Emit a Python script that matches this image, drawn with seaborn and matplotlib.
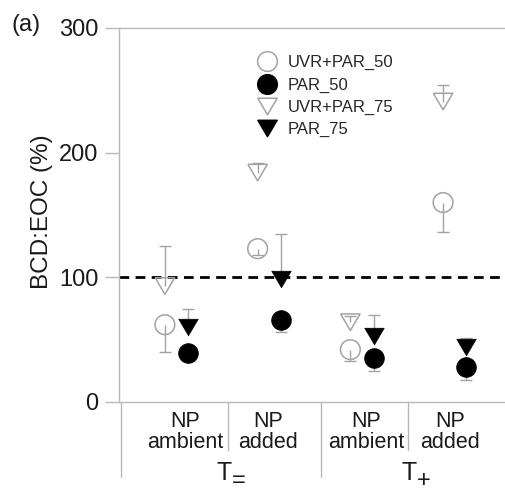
import matplotlib
matplotlib.use("Agg")
import matplotlib.pyplot as plt
from matplotlib.lines import Line2D
import seaborn as sns
import numpy as np
import pandas as pd

# ---- data ----
groups = ["NP\nambient", "NP\nadded", "NP\nambient", "NP\nadded"]
temp_main = ["T", "T"]
temp_sub = ["=", "+"]
series = ["UVR+PAR_50", "PAR_50", "UVR+PAR_75", "PAR_75"]

uvr50 = [62, 123, 42, 160]
uvr50_lo = [40, 118, 33, 136]
par50 = [39, 66, 35, 28]
par50_lo = [36, 56, 25, 18]
uvr75 = [93, 184, 64, 241]
uvr75_hi = [125, 192, 69, 254]
par75 = [60, 99, 53, 44]
par75_hi = [75, 135, 70, 51]

yticks = [0, 100, 200, 300]

# ---- style ----
sns.set_theme(style="white")
plt.rcParams["font.family"] = ["Liberation Sans", "DejaVu Sans"]

GRAY = "#a3a3a3"
SPINE = "#b8b8b8"
TXT = "#1a1a1a"

fig = plt.figure(figsize=(5.06, 4.91), dpi=100)
ax = fig.add_axes([119 / 506, 1 - 402 / 491, 1 - 119 / 506 + 0.02, (402 - 28) / 491])

idx = np.arange(len(groups))
off = 0.125
tri = [(-1, 0.85), (1, 0.85), (0, -0.85), (-1, 0.85)]

# error bars (one-sided)
def onesided(xpos, val, end, color):
    ax.vlines(xpos, val, end, color=color, lw=1.0, zorder=2)
    ax.plot(xpos, end, ls="none", marker="_", ms=9, mew=1.0, color=color, zorder=2)

onesided(idx - off, uvr50, uvr50_lo, GRAY)
onesided(idx - off, uvr75, uvr75_hi, GRAY)
onesided(idx + off, par50, par50_lo, GRAY)
onesided(idx + off, par75, par75_hi, GRAY)

ms_c = 14.2 ** 2
ms_t = 14 ** 2
sns.scatterplot(x=idx - off, y=uvr50, marker="o", s=ms_c, facecolors="none",
                edgecolor=GRAY, linewidth=1.1, ax=ax, zorder=3)
sns.scatterplot(x=idx - off, y=uvr75, marker=tri, s=ms_t, facecolors="none",
                edgecolor=GRAY, linewidth=1.1, ax=ax, zorder=3)
sns.scatterplot(x=idx + off, y=par50, marker="o", s=ms_c, color="black",
                edgecolor="black", linewidth=0.5, ax=ax, zorder=4)
sns.scatterplot(x=idx + off, y=par75, marker=tri, s=ms_t, color="black",
                edgecolor="black", linewidth=0.5, ax=ax, zorder=4)

ax.axhline(100, color="black", lw=2.0, ls=(0, (3.5, 2.3)), zorder=1)

ax.set_xlim(-0.62, 3.663)
ax.set_ylim(0, 300)
ax.set_yticks(yticks)
ax.set_yticklabels([str(t) for t in yticks], fontsize=17, color=TXT)
ax.set_xticks([])
ax.tick_params(axis="y", direction="out", length=10, width=1, color=SPINE, pad=5, left=True)
for s in ["left", "bottom", "top"]:
    ax.spines[s].set_color(SPINE)
    ax.spines[s].set_linewidth(1.0)
ax.spines["right"].set_visible(False)
ax.set_ylabel("BCD:EOC (%)", fontsize=17.5, color=TXT)
ax.yaxis.set_label_coords(-0.165, 0.51)

# category labels below axis
lab_x = [0.09, 0.99, 2.05, 2.95]
trans = ax.get_xaxis_transform()
for xpos, g in zip(lab_x, groups):
    ax.text(xpos, -0.024, g, transform=trans, ha="center", va="top",
            fontsize=15.5, linespacing=1.02, color=TXT)
for xpos, tm, ts in zip([0.60, 2.594], temp_main, temp_sub):
    ax.text(xpos, -0.2086, tm, transform=trans, ha="right", va="baseline",
            fontsize=18, color=TXT)
    ax.text(xpos, -0.2273, ts, transform=trans, ha="left", va="baseline",
            fontsize=17, color=TXT)

# separators
for xpos, depth in zip([-0.60, 0.556, 1.559, 2.497], [0.2, 0.128, 0.2, 0.128]):
    ax.plot([xpos, xpos], [0, -depth], transform=trans, color=SPINE, lw=1.0, clip_on=False)

# legend
handles = [
    Line2D([], [], ls="none", marker="o", ms=14.2, mfc="none", mec=GRAY, mew=1.1),
    Line2D([], [], ls="none", marker="o", ms=14.2, mfc="black", mec="black"),
    Line2D([], [], ls="none", marker=tri, ms=14, mfc="none", mec=GRAY, mew=1.1),
    Line2D([], [], ls="none", marker=tri, ms=14, mfc="black", mec="black"),
]
ax.legend(handles, series, loc="upper left", bbox_to_anchor=(0.352, 0.927),
          frameon=False, fontsize=12, handlelength=1.0, handletextpad=0.72,
          labelspacing=0.42, borderpad=0, borderaxespad=0)

fig.text(12 / 506, 1 - 25 / 491, "(a)", fontsize=17, va="center", ha="left", color=TXT)

fig.savefig("out.png", dpi=100)
